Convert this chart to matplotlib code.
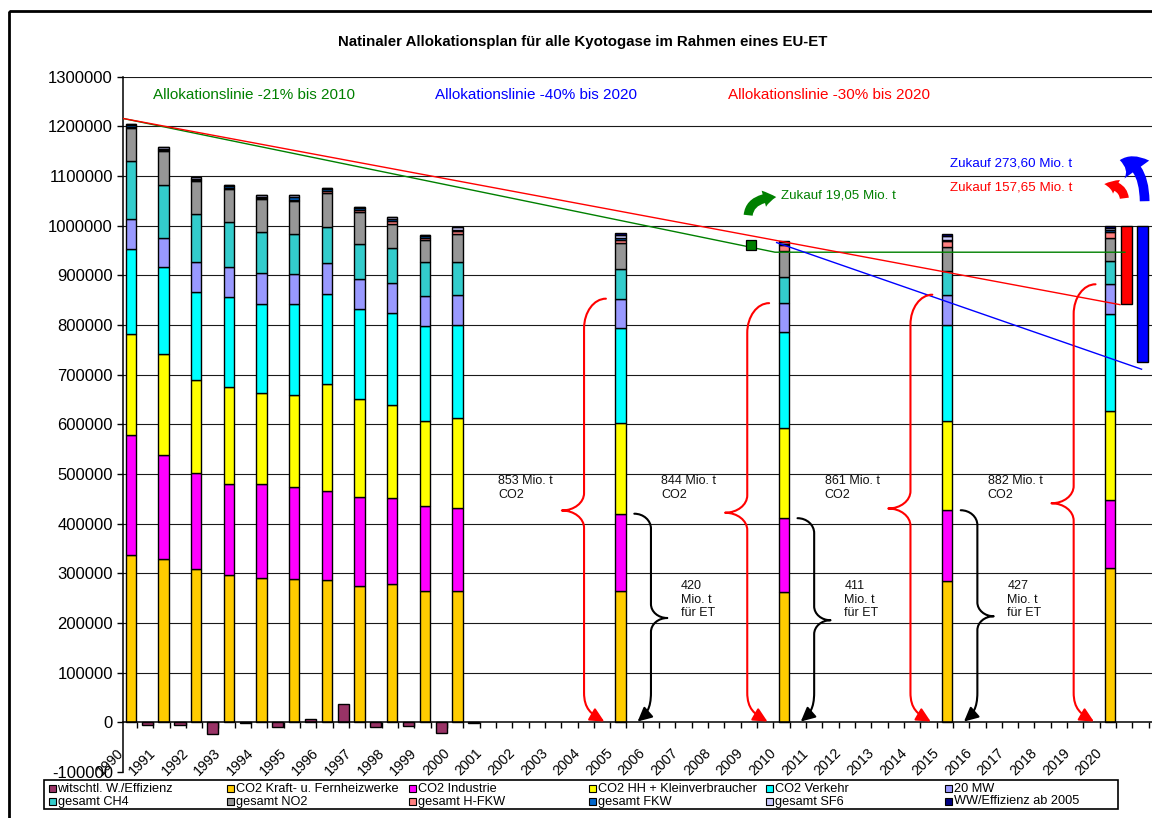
import numpy as np
import matplotlib
matplotlib.use("Agg")
import matplotlib.pyplot as plt
import matplotlib.ticker as mticker
from matplotlib.patches import Rectangle, FancyArrowPatch
from matplotlib.path import Path
from matplotlib.transforms import ScaledTranslation

plt.rcParams['font.family'] = ['Liberation Sans', 'DejaVu Sans']

# ---------------- data (1000 t CO2-eq) ----------------
bar_years = [1990, 1991, 1992, 1993, 1994, 1995, 1996, 1997, 1998, 1999, 2000, 2005, 2010, 2015, 2020]
co2_kraft = [337, 329, 309, 296, 291, 288, 287, 275, 278, 265, 264, 265, 262, 284, 310]
co2_industrie = [241, 209, 193, 184, 189, 185, 179, 179, 173, 171, 168, 155, 149, 143, 137]
co2_hh = [203, 204, 187, 195, 183, 187, 215, 196, 188, 170, 181, 182, 181, 179, 180]
co2_verkehr = [172, 174, 178, 182, 180, 183, 182, 182, 186, 191, 187, 191, 193, 194, 195]
mw20 = [61, 60, 60, 59, 61, 60, 61, 60, 60, 61, 60, 60, 59, 61, 60]
ges_ch4 = [117, 106, 96, 91, 83, 81, 74, 72, 71, 69, 66, 59, 53, 47, 46]
ges_no2 = [65, 68, 66, 67, 66, 65, 68, 64, 48, 44, 57, 53, 53, 50, 48]
ges_hfkw = [2, 2, 2, 2, 2, 2, 3, 3, 5, 5, 6, 7, 11, 11, 12]
ges_fkw = [4, 3, 4, 3, 3, 6, 4, 4, 4, 3, 3, 3, 2, 3, 3]
ges_sf6 = [3, 3, 4, 3, 3, 4, 3, 3, 4, 3, 6, 6, 4, 7, 5]
ww_eff_2005 = [0, 0, 0, 0, 0, 0, 0, 0, 0, 0, 0, 4, 2, 4, 3]

wirt_years = [1990, 1991, 1992, 1993, 1994, 1995, 1996, 1997, 1998, 1999, 2000]
witschtl = [-5, -5, -23, -1, -10, 6, 36, -10, -7, -21, -1]

label_years = list(range(1990, 2021))

series_names = ['witschtl. W./Effizienz', 'CO2 Kraft- u. Fernheizwerke', 'CO2 Industrie',
                'CO2 HH + Kleinverbraucher', 'CO2 Verkehr', '20 MW',
                'gesamt CH4', 'gesamt NO2', 'gesamt H-FKW',
                'gesamt FKW', 'gesamt SF6', 'WW/Effizienz ab 2005']
series_colors = ['#993366', '#FFCC00', '#FF00FF', '#FFFF00', '#00FFFF', '#9999FF',
                 '#33CCCC', '#969696', '#FF8080', '#0066CC', '#CCCCFF', '#000080']
stack_values = [co2_kraft, co2_industrie, co2_hh, co2_verkehr, mw20, ges_ch4,
                ges_no2, ges_hfkw, ges_fkw, ges_sf6, ww_eff_2005]

# allocation lines (year, 1000 t)
alloc21_x = [1989.75, 2009.73, 2020.45]
alloc21_y = [1216, 946.6, 946.6]
alloc30_x = [1989.75, 2020.30]
alloc30_y = [1216, 841]
alloc40_x = [2009.78, 2020.96]
alloc40_y = [966, 711]
target_x = [2009.0]
target_y = [962]

# purchase (Zukauf) bars
zukauf_year = [2020.5, 2021.0]
zukauf_amount = [157.65, 273.60]
zukauf_top = 1000
zukauf_colors = ['#FF0000', '#0000FF']

# braces
co2_years = [2005, 2010, 2015, 2020]
co2_sum = [853, 844, 861, 882]
et_years = [2005, 2010, 2015]
et_sum = [420, 411, 427]

K = 1000.0

# ---------------- figure ----------------
W, H = 1152, 818
fig = plt.figure(figsize=(W / 100, H / 100), dpi=100, facecolor='white')
ax_left, ax_right = 122.7, 1152.0
y_top_px, y_bot_px = 76.7, 771.96
ax = fig.add_axes([ax_left / W, 1 - y_bot_px / H, (ax_right - ax_left) / W, (y_bot_px - y_top_px) / H])
ax.set_xlim(1989.746, 2021.28)
ax.set_ylim(-100000, 1300000)

for gv in range(100000, 1300001, 100000):
    ax.axhline(gv, color='#1a1a1a', lw=0.8, zorder=1)

bw = 0.32
bottom = np.zeros(len(bar_years))
for vals, name, col in zip(stack_values, series_names[1:], series_colors[1:]):
    v = np.array(vals, dtype=float) * K
    ax.bar(bar_years, v, width=bw, bottom=bottom, color=col, edgecolor='black',
           linewidth=1.0, zorder=3, label=name)
    bottom = bottom + v

ax.bar(np.array(wirt_years) + 0.5, np.array(witschtl) * K, width=0.34, color=series_colors[0],
       edgecolor='black', linewidth=1.0, zorder=3, label=series_names[0])

zk_amount = np.array(zukauf_amount) * K
ax.bar(zukauf_year, zk_amount, width=0.33, bottom=zukauf_top * K - zk_amount,
       color=zukauf_colors, edgecolor='black', linewidth=1.0, zorder=3)

ax.plot(alloc21_x, np.array(alloc21_y) * K, color='#008000', lw=1.0, zorder=5)
ax.plot(alloc30_x, np.array(alloc30_y) * K, color='#FF0000', lw=1.0, zorder=5)
ax.plot(alloc40_x, np.array(alloc40_y) * K, color='#0000FF', lw=1.0, zorder=5)
ax.plot(target_x, np.array(target_y) * K, 's', ms=7.5, mfc='#008000', mec='black', mew=0.9, zorder=6)


def brace(b_top, xs, xv, xt, xe, ht, hm, hb):
    T = b_top
    M = T / 2.0
    C = Path.CURVE4
    verts = [(xs, T),
             (xs + 0.552 * (xv - xs), T), (xv, T - ht + 0.552 * ht), (xv, T - ht),
             (xv, M + hm),
             (xv, M + hm - 0.552 * hm), (xt + 0.552 * (xv - xt), M), (xt, M),
             (xt + 0.552 * (xv - xt), M), (xv, M - hm + 0.552 * hm), (xv, M - hm),
             (xv, hb),
             (xv, 0.45 * hb), (xv + 0.35 * (xe - xv), 0.28 * hb), (xe, 1500)]
    codes = [Path.MOVETO, C, C, C, Path.LINETO, C, C, C, C, C, C, Path.LINETO, C, C, C]
    return Path(verts, codes)


for yr, tot in zip(co2_years, co2_sum):
    p = brace(tot * K, yr - 0.45, yr - 1.12, yr - 1.8, yr - 0.5, 60000, 35000, 60000)
    ax.add_patch(FancyArrowPatch(path=p, arrowstyle='-|>,head_length=0.85,head_width=0.42',
                                 mutation_scale=10, color='#FF0000', lw=1.5, zorder=6,
                                 transform=ax.transData))
    ax.text(yr - 3.75, 498000, f"{tot} Mio. t\nCO2", fontsize=9, ha='left', va='top',
            color='#111111', zorder=7)

for yr, tot in zip(et_years, et_sum):
    p = brace(tot * K, yr + 0.42, yr + 0.93, yr + 1.43, yr + 0.52, 30000, 28000, 60000)
    ax.add_patch(FancyArrowPatch(path=p, arrowstyle='-|>,head_length=0.85,head_width=0.42',
                                 mutation_scale=10, color='black', lw=1.5, zorder=6,
                                 transform=ax.transData))
    ax.text(yr + 1.85, 287000, f"{tot}\nMio. t\nfür ET", fontsize=9, ha='left', va='top',
            color='#111111', zorder=7)

# axes styling
for s in ['top', 'right']:
    ax.spines[s].set_visible(False)
ax.spines['bottom'].set_position(('data', 0))
ax.spines['bottom'].set_linewidth(1.1)
ax.spines['left'].set_linewidth(1.1)
ax.spines['bottom'].set_zorder(4)

ax.set_yticks(np.arange(-100000, 1300001, 100000))
ax.yaxis.set_major_formatter(mticker.FuncFormatter(lambda v, p: f"{int(round(v))}"))
ax.tick_params(axis='y', length=4, width=1, pad=3, labelsize=12)

ax.set_xticks(label_years)
ax.set_xticklabels([str(y) for y in label_years], rotation=45, ha='right', fontsize=10.3)
ax.set_xticks(np.arange(1990.18, 2021.25, 0.5), minor=True)
ax.tick_params(axis='x', which='major', length=0, pad=17)
ax.tick_params(axis='x', which='minor', length=4, width=1, direction='out')
offset = ScaledTranslation(-0.05, 0, fig.dpi_scale_trans)
for lbl in ax.get_xticklabels():
    lbl.set_transform(lbl.get_transform() + offset)
    lbl.set_clip_on(False)

# ---------------- overlay in pixel coordinates ----------------
ov = fig.add_axes([0, 0, 1, 1], zorder=10)
ov.set_xlim(0, W)
ov.set_ylim(H, 0)
ov.axis('off')
ov.patch.set_alpha(0)

ov.add_patch(Rectangle((9, 11), 1300, 1000, fill=False, lw=2, ec='black'))

ov.text(583, 42, "Natinaler Allokationsplan für alle Kyotogase im Rahmen eines EU-ET",
        ha='center', va='center', fontsize=10.8, fontweight='bold')
ov.text(153, 95, "Allokationslinie -21% bis 2010", color='#008000', fontsize=11, va='center')
ov.text(435, 95, "Allokationslinie -40% bis 2020", color='#0000FF', fontsize=11, va='center')
ov.text(728, 95, "Allokationslinie -30% bis 2020", color='#FF0000', fontsize=11, va='center')
ov.text(781, 196, "Zukauf 19,05 Mio. t", color='#008000', fontsize=9.6, va='center')
ov.text(950, 163, "Zukauf 273,60 Mio. t", color='#0000FF', fontsize=9.6, va='center')
ov.text(950, 187, "Zukauf 157,65 Mio. t", color='#FF0000', fontsize=9.6, va='center')

ov.add_patch(FancyArrowPatch((748, 218), (779, 197),
                             connectionstyle="angle3,angleA=90,angleB=0",
                             arrowstyle="simple,head_length=9,head_width=12,tail_width=6.5",
                             mutation_scale=1, color='#008000', lw=0))
ov.add_patch(FancyArrowPatch((1124.5, 201), (1101.5, 184),
                             connectionstyle="angle3,angleA=90,angleB=0",
                             arrowstyle="simple,head_length=9,head_width=11,tail_width=6.5",
                             mutation_scale=1, color='#FF0000', lw=0))
ov.add_patch(FancyArrowPatch((1144.7, 204), (1117, 160),
                             connectionstyle="angle3,angleA=90,angleB=0",
                             arrowstyle="simple,head_length=14,head_width=22,tail_width=7",
                             mutation_scale=1, color='#0000FF', lw=0))

# legend (manual, fixed column grid)
ov.add_patch(Rectangle((44, 779.5), 1074, 29.5, fc='white', ec='black', lw=1.2))
col_x = [48.5, 226.5, 408.5, 588.5, 766.0, 945.0]
row_y = [788.5, 801.5]
for i, (name, col) in enumerate(zip(series_names, series_colors)):
    r, c = divmod(i, 6)
    cx, ry = col_x[c], row_y[r]
    ov.add_patch(Rectangle((cx, ry - 3.5), 7, 7, fc=col, ec='black', lw=0.8))
    ov.text(cx + 9, ry, name, fontsize=9.2, va='center', ha='left')

fig.savefig('out.png', dpi=100, facecolor='white')
